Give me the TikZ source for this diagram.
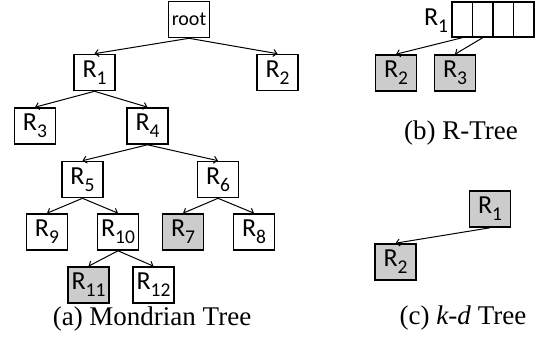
\documentclass[tikz,border=0pt]{standalone}
\usepackage{fontspec}
\setmainfont{Liberation Serif}
\setsansfont{Carlito}
\usetikzlibrary{arrows.meta}

\newcommand{\rlab}[1]{R\raisebox{-0.28em}{\fontsize{19.5}{19.5}\selectfont #1}}

\tikzstyle{region} = [draw,line width=1.6pt,minimum width=41pt,minimum height=36pt,inner sep=0pt,font=\sffamily\fontsize{26}{26}\selectfont]
\tikzstyle{leaf} = [region,fill=black!20]
\tikzstyle{cell} = [draw,line width=1.6pt,minimum width=20.6pt,minimum height=35pt,inner sep=0pt]
\tikzstyle{edge} = [-{Straight Barb[length=3.5pt,width=7pt]},line width=1pt]
\tikzstyle{caption} = [font=\fontsize{27}{27}\selectfont]

\begin{document}
\begin{tikzpicture}[x=1pt,y=-1pt]
	\useasboundingbox (0,0) rectangle (539,344);
	
	% (a) Mondrian tree
	\node[region,font=\sffamily\fontsize{20}{20}\selectfont] (root) at (189,19.5) {root};
	\node[region] (a1) at (94.5,72.5) {\rlab{1}};
	\node[region] (a2) at (277.5,72.5) {\rlab{2}};
	\node[region] (a3) at (35,126) {\rlab{3}};
	\node[region] (a4) at (147.5,126) {\rlab{4}};
	\node[region] (a5) at (82.5,179.5) {\rlab{5}};
	\node[region] (a6) at (218,179.5) {\rlab{6}};
	\node[region] (a9) at (47,232) {\rlab{9}};
	\node[region] (a10) at (118,232) {\rlab{10}};
	\node[leaf] (a7) at (183,232) {\rlab{7}};
	\node[region] (a8) at (254,232) {\rlab{8}};
	\node[leaf] (a11) at (88.5,285) {\rlab{11}};
	\node[region] (a12) at (153.5,285) {\rlab{12}};
	
	\draw[edge] (root.south) -- (a1.north);
	\draw[edge] (root.south) -- (a2.north);
	\draw[edge] (a1.south) -- (a3.north);
	\draw[edge] (a1.south) -- (a4.north);
	\draw[edge] (a4.south) -- (a5.north);
	\draw[edge] (a4.south) -- (a6.north);
	\draw[edge] (a5.south) -- (a9.north);
	\draw[edge] (a5.south) -- (a10.north);
	\draw[edge] (a6.south) -- (a7.north);
	\draw[edge] (a6.south) -- (a8.north);
	\draw[edge] (a10.south) -- (a11.north);
	\draw[edge] (a10.south) -- (a12.north);
	
	\node[caption] (capa) at (152,319) {(a) Mondrian Tree};
	
	% (b) R-tree
	\node[cell] (c1) at (462,19.5) {};
	\node[cell] (c2) at (482.6,19.5) {};
	\node[cell] (c3) at (503.2,19.5) {};
	\node[cell] (c4) at (523.8,19.5) {};
	\node[font=\sffamily\fontsize{26}{26}\selectfont] (b1) at (436,21) {\rlab{1}};
	\node[leaf] (b2) at (396,73) {\rlab{2}};
	\node[leaf] (b3) at (455,73) {\rlab{3}};
	
	\draw[edge] (c1.south) -- (b2.north);
	\draw[edge] (c2.south) -- (b3.north);
	
	\node[caption] (capb) at (461,133) {(b) R-Tree};
	
	% (c) k-d tree
	\node[leaf] (k1) at (490,209) {\rlab{1}};
	\node[leaf] (k2) at (395.5,262) {\rlab{2}};
	
	\draw[edge] (k1.south) -- (k2.north);
	
	\node[caption] (capc) at (463,318) {(c) \textit{k-d} Tree};
\end{tikzpicture}
\end{document}
